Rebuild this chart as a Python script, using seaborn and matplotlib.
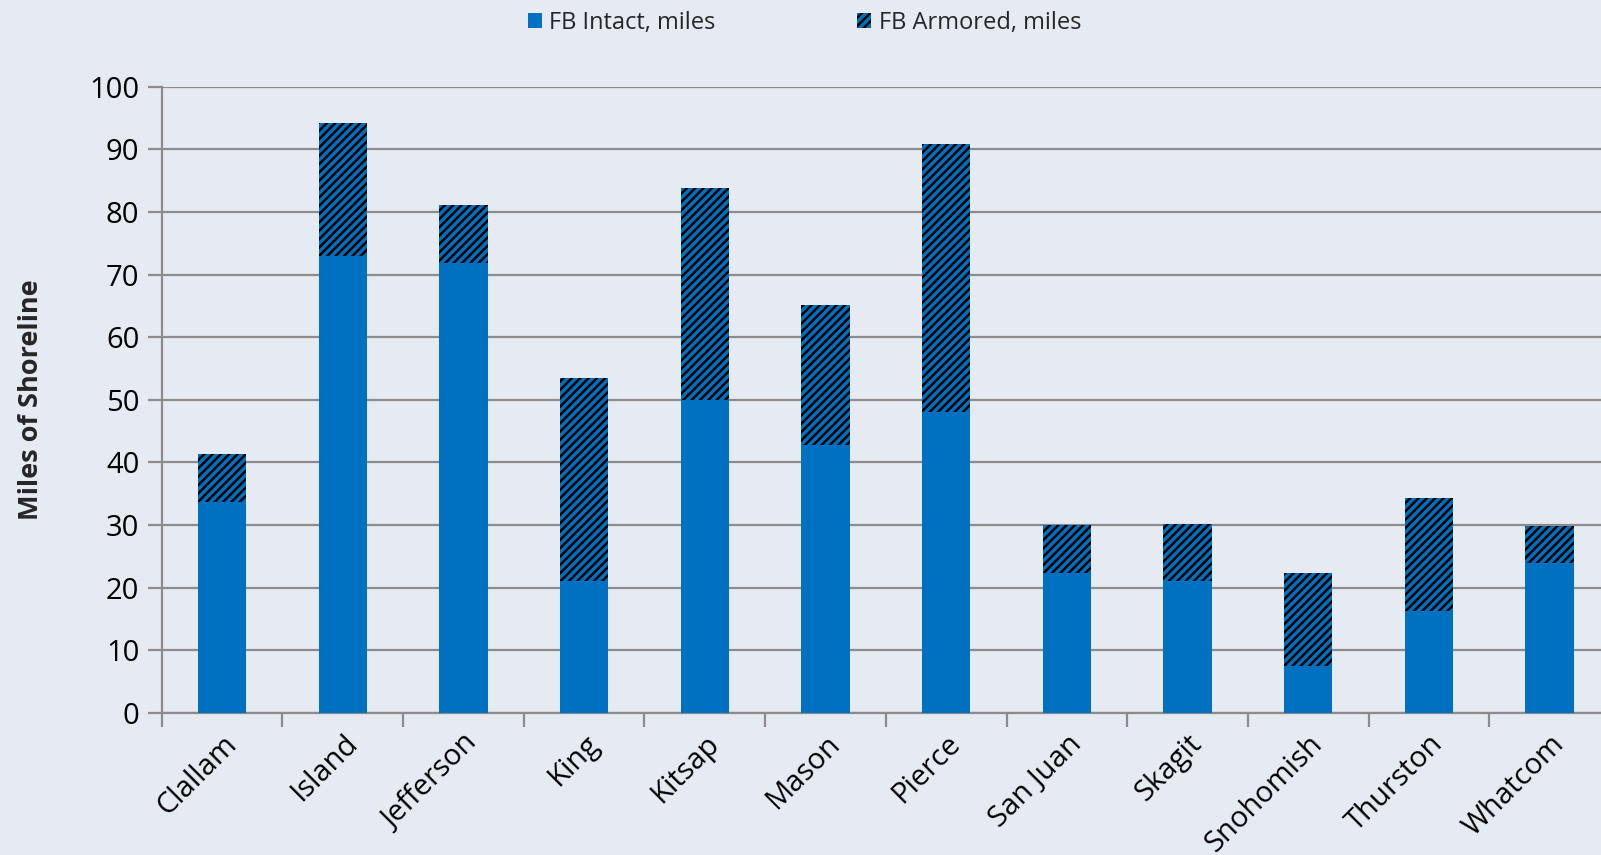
import matplotlib
matplotlib.use("Agg")
import matplotlib.pyplot as plt
import seaborn as sns
import pandas as pd
from matplotlib.patches import Patch

counties = ["Clallam", "Island", "Jefferson", "King", "Kitsap", "Mason", "Pierce",
            "San Juan", "Skagit", "Snohomish", "Thurston", "Whatcom"]
intact = [33.6, 72.9, 71.9, 21.0, 49.9, 42.7, 48.0, 22.3, 21.0, 7.5, 16.2, 24.0]
armored = [7.8, 21.4, 9.2, 32.5, 33.9, 22.4, 42.9, 7.7, 9.2, 14.8, 18.1, 5.9]
yticks = [0, 10, 20, 30, 40, 50, 60, 70, 80, 90, 100]

BG = "#E6EAF2"
BLUE = "#0070C0"
GRID = "#8C8C8C"

sns.set_theme(style="white")
plt.rcParams["font.family"] = ["Open Sans", "DejaVu Sans"]
plt.rcParams["hatch.linewidth"] = 1.8

df = pd.DataFrame({"county": counties, "intact": intact,
                   "total": [a + b for a, b in zip(intact, armored)]})

fig = plt.figure(figsize=(16.01, 8.55), dpi=100, facecolor=BG)
ax = fig.add_axes([0.101, 0.1664, 0.9046, 0.732])
ax.set_facecolor(BG)

sns.barplot(data=df, x="county", y="total", color=BLUE, width=0.40, ax=ax,
            saturation=1, hatch="////", edgecolor="black", linewidth=0, zorder=3)
sns.barplot(data=df, x="county", y="intact", color=BLUE, width=0.40, ax=ax,
            saturation=1, edgecolor=BLUE, linewidth=0, zorder=4)

ax.set_xlim(-0.5, len(counties) - 0.5)
ax.set_ylim(0, 100)
ax.set_yticks(yticks)
ax.yaxis.grid(True, color=GRID, linewidth=1.6, zorder=0)
ax.set_axisbelow(True)

for s in ["top", "right"]:
    ax.spines[s].set_visible(False)
for s in ["left", "bottom"]:
    ax.spines[s].set_color(GRID)
    ax.spines[s].set_linewidth(1.6)

ax.set_xticks([i for i in range(len(counties))])
ax.set_xticklabels(counties, rotation=45, ha="right", rotation_mode="anchor",
                   fontsize=21, color="black")
ax.tick_params(axis="x", length=0, pad=12)
ax.set_xticks([i - 0.5 for i in range(len(counties) + 1)], minor=True)
ax.tick_params(axis="x", which="minor", length=10, width=1.6, color=GRID, bottom=True)
ax.tick_params(axis="y", length=10, width=1.6, color=GRID, left=True,
               labelsize=21, labelcolor="black", pad=6)

ax.set_xlabel("")
ax.set_ylabel("Miles of Shoreline", fontsize=19.5, fontweight="bold", labelpad=33)

handles = [Patch(facecolor=BLUE, edgecolor=BLUE, linewidth=0, label="FB Intact, miles"),
           Patch(facecolor=BLUE, edgecolor="black", linewidth=0, hatch="////",
                 label="FB Armored, miles")]
fig.legend(handles=handles, loc="upper center", bbox_to_anchor=(0.5025, 1.012), ncol=2,
           frameon=False, fontsize=17, handlelength=0.6, handleheight=0.6,
           handletextpad=0.3, columnspacing=6.0)

fig.savefig("out.png", dpi=100, facecolor=BG)
